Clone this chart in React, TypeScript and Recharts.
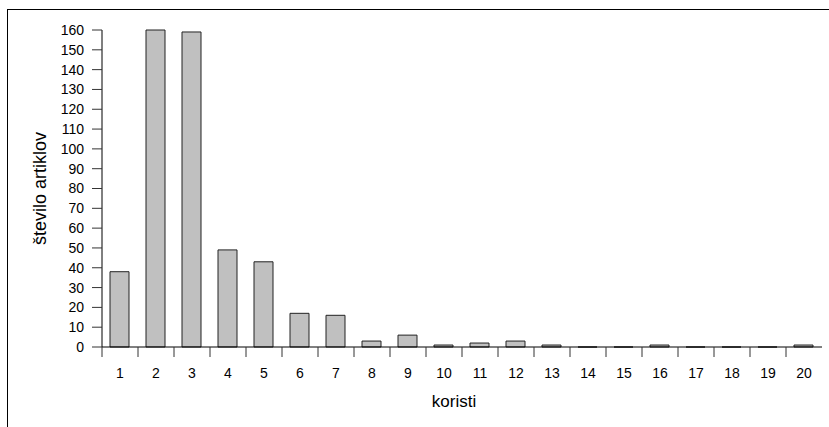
import React from 'react';
import { BarChart, Bar, XAxis, YAxis } from 'recharts';

const categories: number[] = [1, 2, 3, 4, 5, 6, 7, 8, 9, 10, 11, 12, 13, 14, 15, 16, 17, 18, 19, 20];
const counts: number[] = [38, 160, 159, 49, 43, 17, 16, 3, 6, 1, 2, 3, 1, 0, 0, 1, 0, 0, 0, 1];
const yTicks: number[] = [0, 10, 20, 30, 40, 50, 60, 70, 80, 90, 100, 110, 120, 130, 140, 150, 160];
const xLabelTicks: number[] = categories;
const xBoundaryTicks: number[] = categories.map((c) => c - 0.5);

const data = categories.map((k, i) => ({ k, n: counts[i] }));
const xTicks = [...xBoundaryTicks, ...xLabelTicks].sort((a, b) => a - b);

const FONT = 'Arial, "Liberation Sans", Helvetica, sans-serif';

const XTick = (props: any) => {
  const { x, y, payload } = props;
  const v = payload.value as number;
  if (!Number.isInteger(v)) {
    return <line x1={x} x2={x} y1={y - 10} y2={y} stroke="#333" strokeWidth={1} />;
  }
  return (
    <text x={x} y={y + 11} dy="0.71em" textAnchor="middle" fontSize={14} fontFamily={FONT} fill="#000">
      {v}
    </text>
  );
};

const BarShape = (props: any) => {
  const { x, y, width, height } = props;
  return (
    <path
      d={`M${x},${y}h${width}v${height}h${-width}Z`}
      fill="#c0c0c0"
      stroke="#222"
      strokeWidth={1}
    />
  );
};

export default function App() {
  return (
    <div style={{ position: 'fixed', top: 0, left: 0, width: 829, height: 427, overflow: 'hidden', background: '#fff' }}>
      <div
        style={{
          position: 'absolute',
          top: 9,
          left: 7,
          right: -10,
          bottom: -10,
          borderTop: '1px solid #000',
          borderLeft: '1px solid #000',
        }}
      />
      <div style={{ position: 'absolute', top: 0, left: 0 }}>
        <BarChart width={829} height={427} data={data} margin={{ top: 30, right: 7, bottom: 22, left: 0 }}>
          <XAxis
            dataKey="k"
            type="number"
            domain={[0.5, 20.5]}
            ticks={xTicks}
            interval={0}
            tickLine={false}
            tickSize={10}
            tickMargin={0}
            tick={<XTick />}
            axisLine={{ stroke: '#000', strokeWidth: 1 }}
            height={58}
            label={{ value: 'koristi', position: 'insideBottom', offset: -2, dx: -8, fontSize: 17, fontFamily: FONT, fill: '#000' }}
          />
          <YAxis
            type="number"
            domain={[0, 160]}
            ticks={yTicks}
            interval={0}
            width={102}
            tickSize={10}
            tickMargin={8}
            tickLine={{ stroke: '#333' }}
            axisLine={{ stroke: '#000', strokeWidth: 1 }}
            tick={{ fontSize: 14, fontFamily: FONT, fill: '#000' }}
            label={{
              value: 'število artiklov',
              angle: -90,
              position: 'insideLeft',
              offset: 40,
              fontSize: 18,
              fontFamily: FONT,
              fill: '#000',
              style: { textAnchor: 'middle' },
            }}
          />
          <Bar dataKey="n" barSize={19} shape={<BarShape />} isAnimationActive={false} />
        </BarChart>
      </div>
    </div>
  );
}
